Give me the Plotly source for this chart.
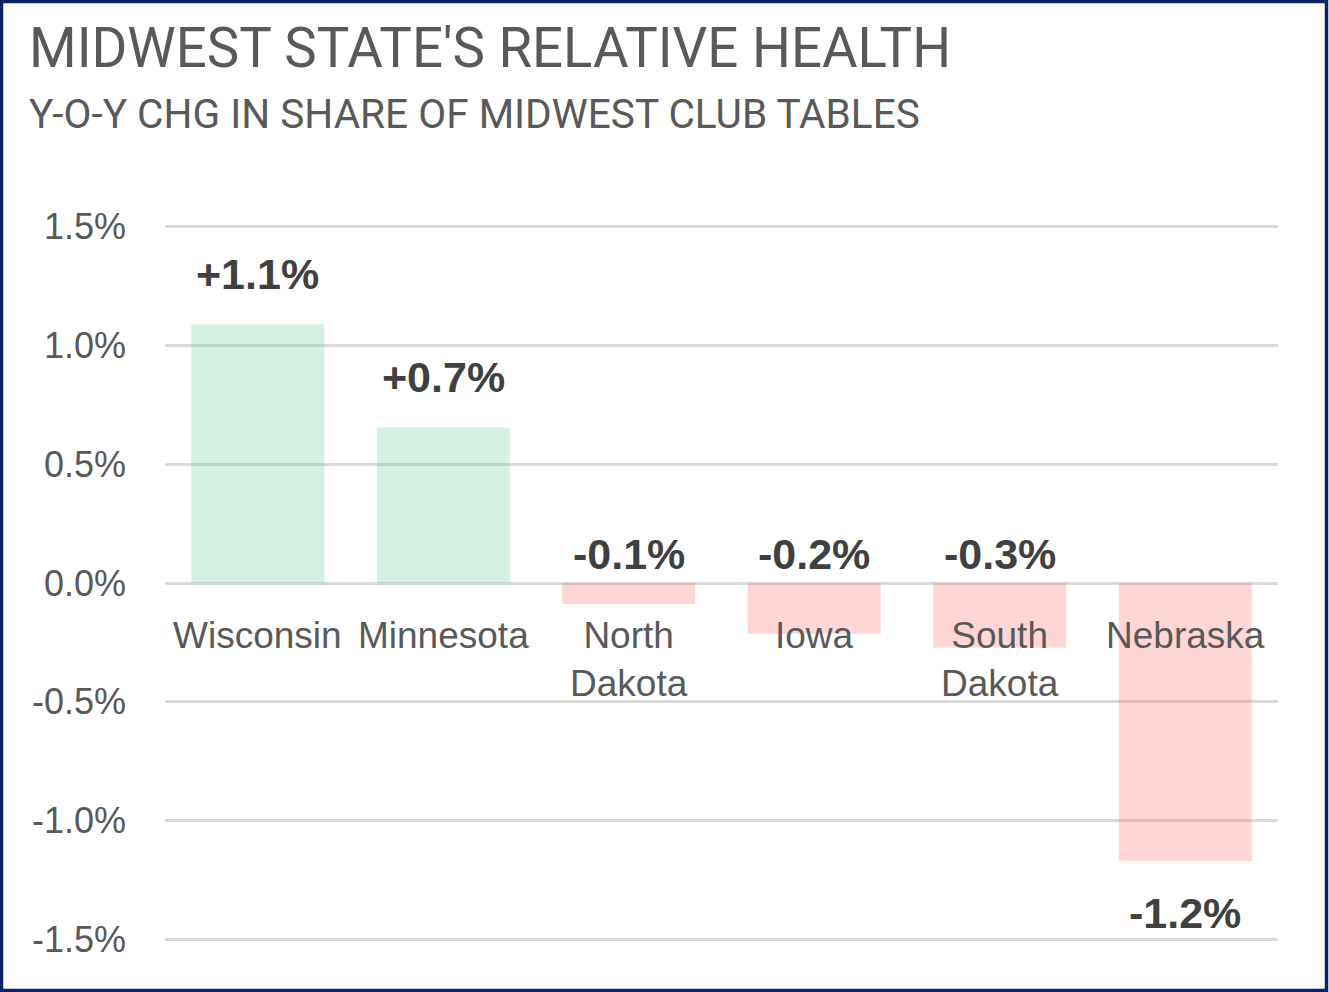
import plotly.graph_objects as go

states = ["Wisconsin", "Minnesota", "North<br>Dakota", "Iowa", "South<br>Dakota", "Nebraska"]
values = [1.09, 0.655, -0.088, -0.214, -0.273, -1.17]  # percent
labels = ["+1.1%", "+0.7%", "-0.1%", "-0.2%", "-0.3%", "-1.2%"]
tick_vals = [1.5, 1.0, 0.5, 0.0, -0.5, -1.0, -1.5]
tick_text = ["1.5%", "1.0%", "0.5%", "0.0%", "-0.5%", "-1.0%", "-1.5%"]

W, H = 1329, 992
ML, MR, MT, MB = 165, 51, 222, 48
pw, ph = W - ML - MR, H - MT - MB

colors = ["rgba(118,208,162,0.3)" if v >= 0 else "rgba(255,118,118,0.3)" for v in values]

fig = go.Figure()
fig.add_trace(go.Bar(
    x=states, y=values, marker=dict(color=colors, line=dict(width=0)),
    width=0.717, hoverinfo="skip",
))

lab_font = dict(family="Liberation Sans", size=43, color="#404040", weight="bold")
ann = []
for s, v, lab in zip(states, values, labels):
    if v >= 0:
        ann.append(dict(x=s, y=v, yref="y", xref="x", text=lab, showarrow=False,
                        yanchor="bottom", yshift=24, font=lab_font))
    elif v > -0.5:
        ann.append(dict(x=s, y=0, yref="y", xref="x", text=lab, showarrow=False,
                        yanchor="bottom", yshift=3, font=lab_font))
    else:
        ann.append(dict(x=s, y=v, yref="y", xref="x", text=lab, showarrow=False,
                        yanchor="top", yshift=-26, font=lab_font))
    ann.append(dict(x=s, y=0, yref="y", xref="x", text=s, showarrow=False,
                    yanchor="top", yshift=-30,
                    font=dict(family="Liberation Sans", size=37, color="#595959")))

ann.append(dict(x=-ML / pw + 27 / pw, y=1 + (MT - 48) / ph, xref="paper", yref="paper",
                xanchor="left", yanchor="middle", showarrow=False,
                text="MIDWEST STATE'S RELATIVE HEALTH",
                font=dict(family="Roboto", size=54.6, color="#595959")))
ann.append(dict(x=-ML / pw + 27 / pw, y=1 + (MT - 114) / ph, xref="paper", yref="paper",
                xanchor="left", yanchor="middle", showarrow=False,
                text="Y-O-Y CHG IN SHARE OF MIDWEST CLUB TABLES",
                font=dict(family="Roboto", size=40.6, color="#595959")))

fig.update_layout(
    width=W, height=H,
    margin=dict(l=ML, r=MR, t=MT, b=MB, pad=0),
    paper_bgcolor="white", plot_bgcolor="white",
    showlegend=False, bargap=0.283,
    annotations=ann,
    xaxis=dict(showticklabels=False, showgrid=False, zeroline=False, showline=False, ticks=""),
    yaxis=dict(range=[-1.52, 1.52], tickvals=tick_vals, ticktext=tick_text,
               showgrid=True, gridcolor="#d9d9d9", gridwidth=2.5,
               zeroline=False, showline=False, ticks="", ticklabelstandoff=38,
               tickfont=dict(family="Liberation Sans", size=36, color="#595959")),
    shapes=[dict(type="rect", xref="paper", yref="paper",
                 x0=-(ML - 1.5) / pw, x1=1 + (MR - 2.5) / pw,
                 y0=-(MB - 1.5) / ph, y1=1 + (MT - 1.5) / ph,
                 line=dict(color="#0c2366", width=3.5), fillcolor="rgba(0,0,0,0)", layer="above")],
)

fig.write_html("out.html", config={"displayModeBar": False},
               post_script="document.body.style.margin='0';document.body.style.overflow='hidden';")
